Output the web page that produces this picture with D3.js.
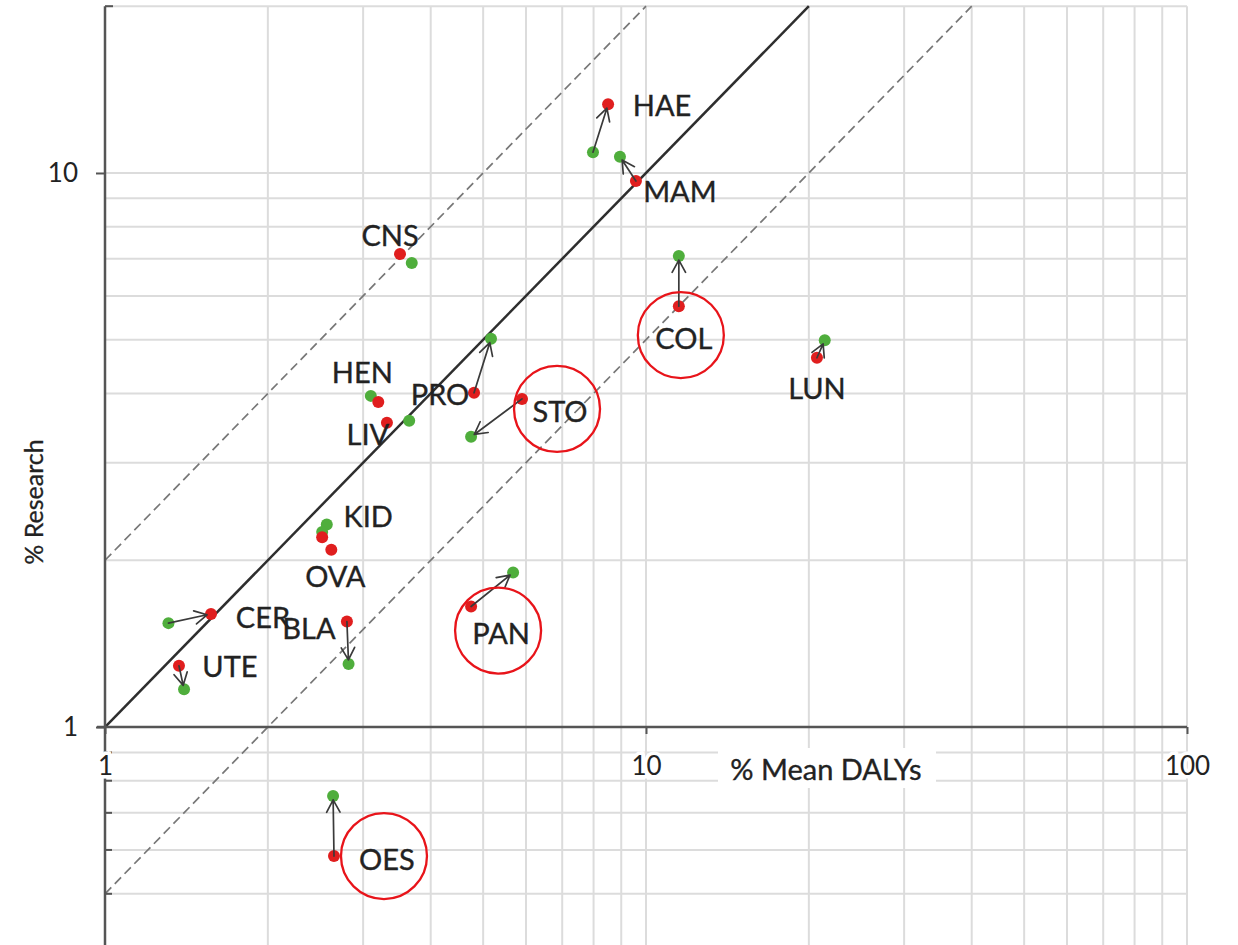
<!DOCTYPE html>
<html>
<head>
<meta charset="utf-8">
<script src="https://cdn.jsdelivr.net/npm/d3@7"></script>
<style>
  html, body { margin: 0; padding: 0; background: #fff; }
  svg { display: block; font-family: Lato, "Open Sans", sans-serif; }
</style>
</head>
<body>
<svg id="chart" width="1238" height="945"></svg>
<script>
// Cancer sites: share of mean DALYs vs share of research, two estimates per site
const categories = ["HAE", "MAM", "CNS", "HEN", "PRO", "STO", "LIV", "KID", "OVA", "CER", "BLA", "UTE", "PAN", "OES", "COL", "LUN"];
const redDalys      = [8.51, 9.58, 3.51, 3.20, 4.81, 5.90, 3.32, 2.52, 2.62, 1.57, 2.80, 1.37, 4.75, 2.65, 11.5, 20.7];
const redResearch   = [13.3, 9.67, 7.14, 3.86, 4.01, 3.91, 3.54, 2.20, 2.09, 1.60, 1.55, 1.29, 1.65, 0.585, 5.75, 4.64];
const greenDalys    = [7.98, 8.95, 3.69, 3.10, 5.17, 4.75, 3.65, 2.57, 2.52, 1.31, 2.82, 1.40, 5.68, 2.64, 11.5, 21.4];
const greenResearch = [10.9, 10.7, 6.88, 3.96, 5.02, 3.34, 3.57, 2.32, 2.25, 1.54, 1.30, 1.17, 1.90, 0.751, 7.08, 4.99];
// which point the arrow starts from ("" = no arrow)
const arrowFrom = ["green", "red", "", "", "red", "red", "", "", "", "green", "red", "red", "red", "red", "red", "red"];
// sites circled in red
const highlighted = ["STO", "COL", "PAN", "OES"];

// axis ticks and gridlines
const xTickValues = [1, 10, 100];
const yTickValues = [1, 10];
const xGridValues = [2, 3, 4, 5, 6, 7, 8, 9, 10, 20, 30, 40, 50, 60, 70, 80, 90, 100];
const yGridValues = [0.5, 0.6, 0.7, 0.8, 0.9, 2, 3, 4, 5, 6, 7, 8, 9, 10, 20];
const yMinorTicks = [0.5, 0.6, 0.7, 0.8, 0.9];
// reference ratios research / DALYs
const ratioLines = [{ k: 1, dash: null }, { k: 2, dash: "9,5" }, { k: 0.5, dash: "9,5" }];

// label placement (pixel offsets of each label centre from its red point)
const labelOffsets = [[54, 0], [44, 9], [-10, -20], [-16, -31], [-34, 1], [38, 12], [-19, 11], [46, -22],
  [4, 26], [52, 3], [-38, 6], [51, 0], [30, 26], [53, 2], [5, 31], [0, 30]];

const RED = "#e01e1e", GREEN = "#4fae3c", INK = "#222";

const svg = d3.select("#chart");
const x = d3.scaleLog().domain([1, 100]).range([105, 1187]);
const y = d3.scaleLog().domain([0.4, 20]).range([947.5, 6.2]);
const plotTop = y(20), plotBottom = 945;

// gridlines
const grid = svg.append("g").attr("stroke", "#dcdcdc").attr("stroke-width", 2);
grid.selectAll("line.v").data(xGridValues).join("line").attr("class", "v")
  .attr("x1", d => x(d)).attr("x2", d => x(d)).attr("y1", plotTop).attr("y2", plotBottom);
grid.selectAll("line.h").data(yGridValues).join("line").attr("class", "h")
  .attr("x1", x(1)).attr("x2", x(100)).attr("y1", d => y(d)).attr("y2", d => y(d));

// reference lines
const dmin = 1;
svg.append("g").selectAll("line").data(ratioLines).join("line")
  .attr("x1", x(dmin)).attr("y1", d => y(dmin * d.k))
  .attr("x2", d => x(20 / d.k)).attr("y2", y(20))
  .attr("stroke", d => d.dash ? "#777" : "#2e2e2e")
  .attr("stroke-width", d => d.dash ? 1.7 : 2.5)
  .attr("stroke-dasharray", d => d.dash);

// axes
const axisColor = "#555";
const yAxis = svg.append("g").attr("transform", `translate(${x(1)},0)`)
  .call(d3.axisLeft(y).tickValues(yTickValues).tickFormat(d3.format("d")).tickSize(9).tickPadding(18));
yAxis.select(".domain").remove();
svg.append("line").attr("x1", x(1)).attr("x2", x(1)).attr("y1", plotTop).attr("y2", plotBottom)
  .attr("stroke", axisColor).attr("stroke-width", 2.5);
svg.append("line").attr("x1", x(1)).attr("x2", x(1) + 8).attr("y1", plotTop).attr("y2", plotTop)
  .attr("stroke", axisColor).attr("stroke-width", 2);
svg.append("g").selectAll("line").data(yMinorTicks).join("line")
  .attr("x1", x(1)).attr("x2", x(1) + 7).attr("y1", d => y(d)).attr("y2", d => y(d))
  .attr("stroke", axisColor).attr("stroke-width", 2);

const xAxis = svg.append("g").attr("transform", `translate(0,${y(1)})`)
  .call(d3.axisBottom(x).tickValues(xTickValues).tickFormat(d3.format("d")).tickSize(7).tickPadding(23));
xAxis.select(".domain").remove();
svg.append("line").attr("x1", x(1) - 8).attr("x2", x(100)).attr("y1", y(1)).attr("y2", y(1))
  .attr("stroke", axisColor).attr("stroke-width", 2.3);

[yAxis, xAxis].forEach(a => {
  a.selectAll(".tick line").attr("stroke", axisColor).attr("stroke-width", 2);
  a.selectAll(".tick text").attr("fill", INK).attr("font-size", 26)
    .attr("font-family", "Lato, sans-serif")
    .attr("stroke", "#fff").attr("stroke-width", 7).attr("paint-order", "stroke");
});

// axis titles
const xTitle = svg.append("g");
xTitle.append("rect").attr("x", 718).attr("y", 748).attr("width", 218).attr("height", 40).attr("fill", "#fff");
xTitle.append("text").attr("x", 826).attr("y", 768).attr("text-anchor", "middle")
  .attr("dominant-baseline", "central").attr("font-size", 29).attr("fill", INK)
  .attr("stroke", INK).attr("stroke-width", 0.35).text("% Mean DALYs");
svg.append("text").attr("transform", "translate(33,502) rotate(-90)")
  .attr("text-anchor", "middle").attr("dominant-baseline", "central")
  .attr("font-size", 25).attr("fill", INK).attr("stroke", INK).attr("stroke-width", 0.3).text("% Research");

// site records built from the arrays above
const sites = categories.map((c, i) => ({
  name: c,
  red: [x(redDalys[i]), y(redResearch[i])],
  green: [x(greenDalys[i]), y(greenResearch[i])],
  from: arrowFrom[i],
  off: labelOffsets[i]
}));

// points
const R = 6;
const dots = svg.append("g");
dots.selectAll("circle.g").data(sites).join("circle").attr("class", "g")
  .attr("cx", d => d.green[0]).attr("cy", d => d.green[1]).attr("r", R).attr("fill", GREEN);
dots.selectAll("circle.r").data(sites).join("circle").attr("class", "r")
  .attr("cx", d => d.red[0]).attr("cy", d => d.red[1]).attr("r", R).attr("fill", RED);

// arrows between the two estimates
const arrowG = svg.append("g").attr("stroke", "#3a3a3a").attr("stroke-width", 1.7).attr("fill", "none")
  .attr("stroke-linecap", "round").attr("stroke-linejoin", "round");
sites.filter(s => s.from).forEach(s => {
  const a = s.from === "red" ? s.red : s.green;
  const b = s.from === "red" ? s.green : s.red;
  const ang = Math.atan2(b[1] - a[1], b[0] - a[0]);
  const tip = [b[0] - Math.cos(ang) * 4, b[1] - Math.sin(ang) * 4];
  const L = 14, spread = 0.5;
  const w1 = [tip[0] - L * Math.cos(ang - spread), tip[1] - L * Math.sin(ang - spread)];
  const w2 = [tip[0] - L * Math.cos(ang + spread), tip[1] - L * Math.sin(ang + spread)];
  arrowG.append("path").attr("d", `M${a[0]},${a[1]}L${tip[0]},${tip[1]}M${w1[0]},${w1[1]}L${tip[0]},${tip[1]}L${w2[0]},${w2[1]}`);
});

// labels
svg.append("g").selectAll("text").data(sites).join("text")
  .attr("x", d => d.red[0] + d.off[0]).attr("y", d => d.red[1] + d.off[1])
  .attr("text-anchor", "middle").attr("dominant-baseline", "central")
  .attr("font-size", 29).attr("fill", INK).attr("stroke", INK).attr("stroke-width", 0.35)
  .text(d => d.name);

// highlight rings
svg.append("g").selectAll("circle").data(sites.filter(s => highlighted.includes(s.name))).join("circle")
  .attr("cx", d => d.red[0] + d.off[0] - 3).attr("cy", d => d.red[1] + d.off[1] - 2).attr("r", 43)
  .attr("fill", "none").attr("stroke", "#e8141a").attr("stroke-width", 2.3);
</script>
</body>
</html>
